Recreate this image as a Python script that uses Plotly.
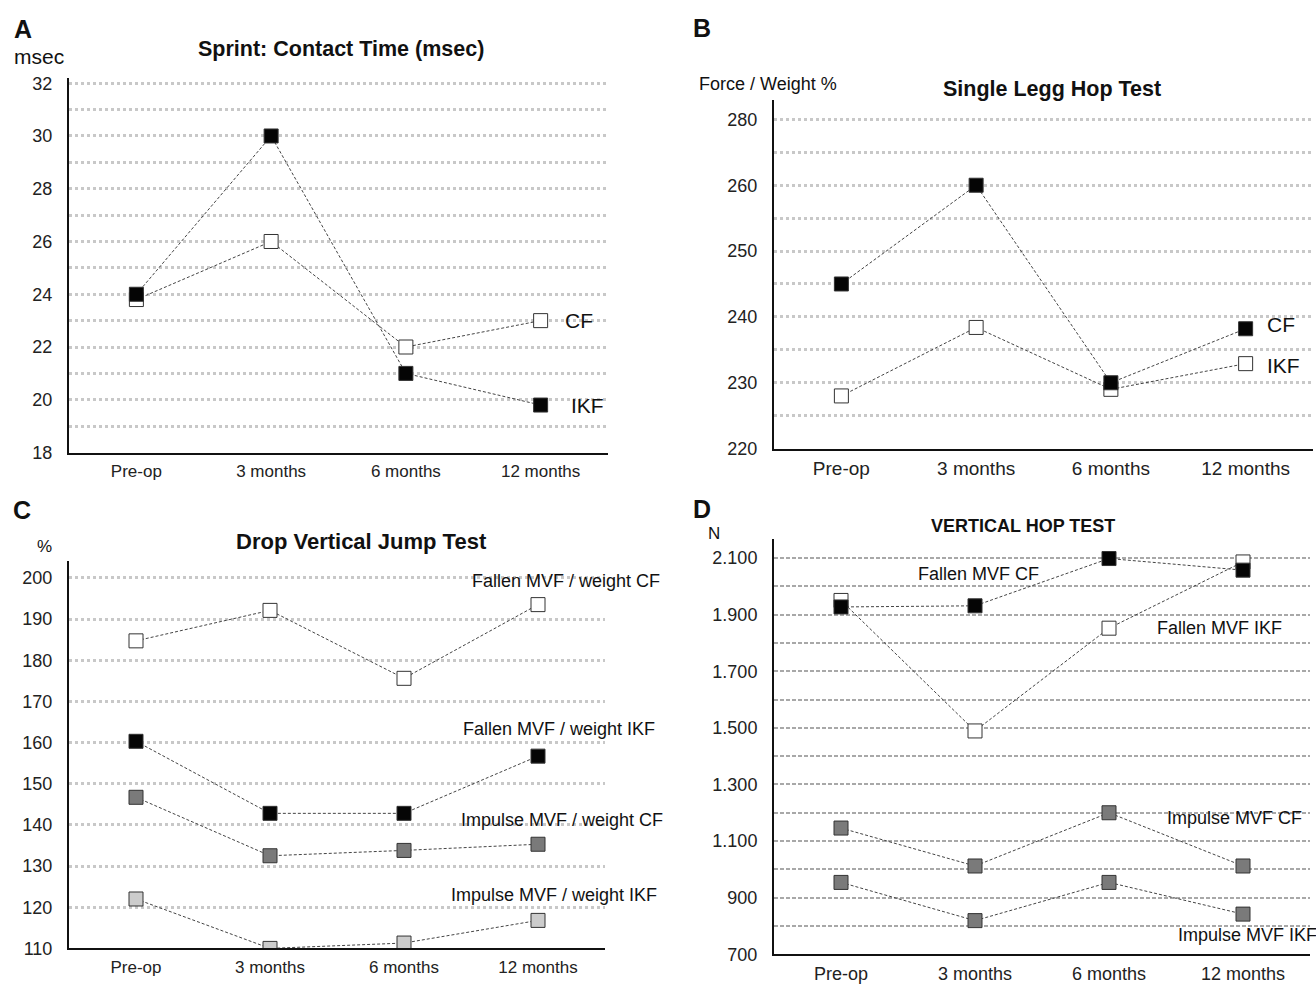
import plotly.graph_objects as go

W, H = 1316, 986
FONT = "Liberation Sans, Arial, sans-serif"

# ---------------- data ----------------
categories = ["Pre-op", "3 months", "6 months", "12 months"]

# Panel A: Sprint contact time (msec)
a_cf = [23.8, 26.0, 22.0, 23.0]
a_ikf = [24.0, 30.0, 21.0, 19.8]
a_ticks = [18, 20, 22, 24, 26, 28, 30, 32]

# Panel B: Single legg hop test (force / weight %)
b_cf = [245, 260, 230, 238.2]
b_ikf = [228, 238.4, 229, 232.9]
b_tickvals = [220, 230, 240, 250, 260, 270]
b_ticktext = ["220", "230", "240", "250", "260", "280"]

# Panel C: Drop vertical jump test (%)
c_fallen_cf = [184.7, 192.1, 175.6, 193.5]
c_fallen_ikf = [160.3, 142.8, 142.8, 156.7]
c_impulse_cf = [146.7, 132.5, 133.8, 135.3]
c_impulse_ikf = [122.0, 110.0, 111.3, 116.8]
c_ticks = [110, 120, 130, 140, 150, 160, 170, 180, 190, 200]

# Panel D: Vertical hop test (N)
d_fallen_cf = [1927, 1931, 2098, 2057]
d_fallen_ikf = [1950, 1489, 1852, 2086]
d_impulse_cf = [1146, 1012, 1200, 1012]
d_impulse_ikf = [954, 819, 954, 842]
d_tickvals = [700, 900, 1100, 1300, 1500, 1700, 1900, 2100]
d_ticktext = ["700", "900", "1.100", "1.300", "1.500", "1.700", "1.900", "2.100"]


def px_x(p):
    return p / W


def px_y(p):
    return 1 - p / H


fig = go.Figure()

LINE = dict(color="#444444", width=1, dash="3px,2px")


def add_series(xa, ya, values, fill):
    fig.add_trace(go.Scatter(
        x=categories, y=values, xaxis=xa, yaxis=ya, mode="lines+markers",
        line=LINE,
        marker=dict(symbol="square", size=14, color=fill,
                    line=dict(color="#333333", width=1)),
        showlegend=False, hoverinfo="x+y"))


BLACK, WHITE, DGRAY, LGRAY = "#050505", "#ffffff", "#7a7a7a", "#cccccc"

# A
add_series("x", "y", a_cf, WHITE)
add_series("x", "y", a_ikf, BLACK)
# B
add_series("x2", "y2", b_ikf, WHITE)
add_series("x2", "y2", b_cf, BLACK)
# C
add_series("x3", "y3", c_fallen_cf, WHITE)
add_series("x3", "y3", c_fallen_ikf, BLACK)
add_series("x3", "y3", c_impulse_cf, DGRAY)
add_series("x3", "y3", c_impulse_ikf, LGRAY)
# D
add_series("x4", "y4", d_fallen_ikf, WHITE)
add_series("x4", "y4", d_fallen_cf, BLACK)
add_series("x4", "y4", d_impulse_cf, DGRAY)
add_series("x4", "y4", d_impulse_ikf, DGRAY)

GRID = "#c8c8c8"


def xaxis(dom, anchor, size=17):
    return dict(domain=dom, anchor=anchor, type="category",
                categoryorder="array", categoryarray=categories,
                range=[-0.5, 3.5], showline=True, linecolor="#111111",
                linewidth=2, showgrid=False, ticks="", zeroline=False,
                tickfont=dict(family=FONT, size=size, color="#222222"),
                ticklabelstandoff=2)


def yaxis(dom, anchor, rng, tickvals, ticktext, minor_dtick, size=18,
          dash="dot", gcolor=GRID, gwidth=2.5):
    return dict(domain=dom, anchor=anchor, range=rng, tickmode="array",
                tickvals=tickvals, ticktext=ticktext,
                showline=True, linecolor="#111111", linewidth=2,
                showgrid=True, gridcolor=gcolor, griddash=dash,
                gridwidth=gwidth, zeroline=False, ticks="",
                minor=dict(dtick=minor_dtick, tick0=rng[0], showgrid=True,
                           gridcolor=gcolor, griddash=dash, gridwidth=gwidth),
                tickfont=dict(family=FONT, size=size, color="#222222"),
                ticklabelstandoff=11)


fig.update_layout(
    width=W, height=H, margin=dict(l=0, r=0, t=0, b=0),
    paper_bgcolor="white", plot_bgcolor="white",
    font=dict(family=FONT),
    xaxis=xaxis([px_x(69), px_x(608)], "y"),
    yaxis=yaxis([px_y(455), px_y(75)], "x", [18, 32.2], a_ticks,
                [str(v) for v in a_ticks], 1),
    xaxis2=xaxis([px_x(774), px_x(1313)], "y2", 19),
    yaxis2=yaxis([px_y(451), px_y(97)], "x2", [220, 273], b_tickvals,
                 b_ticktext, 5),
    xaxis3=xaxis([px_x(69), px_x(605)], "y3"),
    yaxis3=yaxis([px_y(958), px_y(565)], "x3", [110, 204.1], c_ticks,
                 [str(v) for v in c_ticks], 10),
    xaxis4=xaxis([px_x(774), px_x(1310)], "y4", 18),
    yaxis4=yaxis([px_y(964), px_y(543)], "x4", [700, 2166], d_tickvals,
                 d_ticktext, 100, dash="4px,2px", gcolor="#a8a8a8",
                 gwidth=1.5),
)

ann = []


def ptext(x, y, text, size, bold=False, xanchor="center"):
    ann.append(dict(x=px_x(x), y=px_y(y), xref="paper", yref="paper",
                    text=f"<b>{text}</b>" if bold else text, showarrow=False,
                    xanchor=xanchor, yanchor="middle",
                    font=dict(family=FONT, size=size, color="#111111")))


# panel letters
ptext(23, 25, "A", 25, True)
ptext(702, 24, "B", 25, True)
ptext(22, 513, "C", 25, True)
ptext(702, 512, "D", 25, True)
# titles
ptext(341, 46, "Sprint: Contact Time (msec)", 21.5, True)
ptext(1052, 86, "Single Legg Hop Test", 21.5, True)
ptext(361, 545, "Drop Vertical Jump Test", 22, True)
ptext(1023, 530, "VERTICAL HOP TEST", 18, True)
# y-axis unit labels
ptext(39, 53, "msec", 21)
ptext(768, 81, "Force / Weight %", 18)
ptext(44, 550, "%", 17)
ptext(714, 537, "N", 17)


def dtext(xa, ya, cat, y, text, size, xanchor="left", xshift=0, yshift=0):
    ann.append(dict(x=cat, y=y, xref=xa, yref=ya, text=text, showarrow=False,
                    xanchor=xanchor, yanchor="middle", xshift=xshift,
                    yshift=yshift,
                    font=dict(family=FONT, size=size, color="#111111")))


# A series labels
dtext("x", "y", categories[3], a_cf[3], "CF", 21, xshift=22)
dtext("x", "y", categories[3], a_ikf[3], "IKF", 21, xshift=28)
# B series labels
dtext("x2", "y2", categories[3], b_cf[3], "CF", 21, xshift=19, yshift=4)
dtext("x2", "y2", categories[3], b_ikf[3], "IKF", 21, xshift=19, yshift=-2)
# C series labels
dtext("x3", "y3", categories[3], c_fallen_cf[3], "Fallen MVF / weight CF", 18,
      xanchor="right", xshift=124, yshift=24)
dtext("x3", "y3", categories[3], c_fallen_ikf[3], "Fallen MVF / weight IKF", 18,
      xanchor="right", xshift=119, yshift=27)
dtext("x3", "y3", categories[3], c_impulse_cf[3], "Impulse MVF / weight CF", 18,
      xanchor="right", xshift=127, yshift=24)
dtext("x3", "y3", categories[3], c_impulse_ikf[3], "Impulse MVF / weight IKF", 18,
      xanchor="right", xshift=121, yshift=25)
# D series labels
dtext("x4", "y4", categories[1], d_fallen_cf[1], "Fallen MVF CF", 18,
      xanchor="center", xshift=3, yshift=32)
dtext("x4", "y4", categories[2], d_fallen_ikf[2], "Fallen MVF IKF", 18,
      xshift=46)
dtext("x4", "y4", categories[2], d_impulse_cf[2], "Impulse MVF CF", 18,
      xshift=56, yshift=-5)
dtext("x4", "y4", categories[3], d_impulse_ikf[3], "Impulse MVF IKF", 18,
      xshift=-67, yshift=-21)

fig.update_layout(annotations=ann)

fig.write_html("out.html", config={"displayModeBar": False},
               post_script="document.body.style.margin='0';"
                           "document.body.style.overflow='hidden';")
